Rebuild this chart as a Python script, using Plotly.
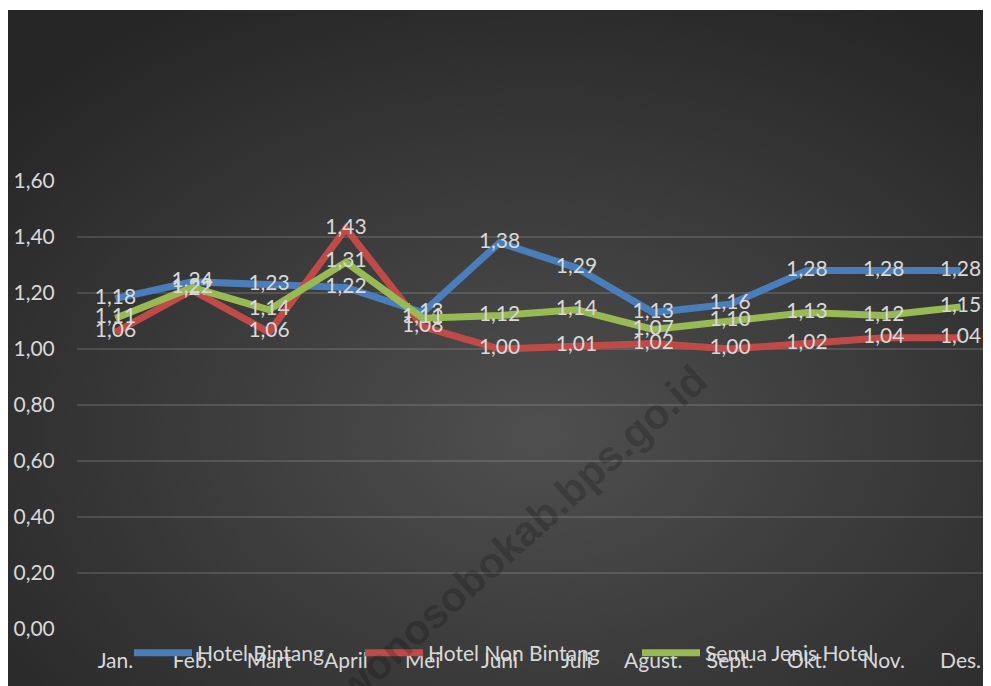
import base64
import plotly.graph_objects as go

months = ["Jan.", "Feb.", "Mart", "April", "Mei", "Juni", "Juli", "Agust.", "Sept.", "Okt.", "Nov.", "Des."]
hotel_bintang = [1.18, 1.24, 1.23, 1.22, 1.13, 1.38, 1.29, 1.13, 1.16, 1.28, 1.28, 1.28]
hotel_non_bintang = [1.06, 1.21, 1.06, 1.43, 1.08, 1.00, 1.01, 1.02, 1.00, 1.02, 1.04, 1.04]
semua_jenis = [1.11, 1.22, 1.14, 1.31, 1.11, 1.12, 1.14, 1.07, 1.10, 1.13, 1.12, 1.15]
series_names = ["Hotel Bintang", "Hotel Non Bintang", "Semua Jenis Hotel"]
y_ticks = [0.0, 0.2, 0.4, 0.6, 0.8, 1.0, 1.2, 1.4, 1.6]

colors = ["#4A7EBB", "#BE4B48", "#98B954"]
FONT = "Lato, 'Open Sans', sans-serif"
TXT = "#D9D9D9"

# figure geometry (pixels, figure coordinates)
W, H = 991, 686
L, R, T, B = 69, 0, 173, 65
pw, ph = W - L - R, H - T - B

fig = go.Figure()
legends = ["legend", "legend2", "legend3"]
for name, vals, col, lg in zip(series_names, [hotel_bintang, hotel_non_bintang, semua_jenis], colors, legends):
    fig.add_trace(go.Scatter(
        x=months, y=vals, name=name, mode="lines+text",
        line=dict(color=col, width=7),
        text=vals, texttemplate="%{y:.2f}", textposition="middle center",
        textfont=dict(family=FONT, size=21, color=TXT),
        cliponaxis=False, legend=lg,
    ))

# background gradient panel via SVG
svg = '''<svg xmlns="http://www.w3.org/2000/svg" width="981" height="684" viewBox="0 0 981 684">
<defs><radialGradient id="g" cx="54%" cy="62%" r="72%">
<stop offset="0" stop-color="#4f4f4f"/><stop offset="1" stop-color="#262626"/></radialGradient></defs>
<rect width="981" height="684" fill="url(#g)"/></svg>'''
src = "data:image/svg+xml;base64," + base64.b64encode(svg.encode()).decode()
x0 = -L / pw
x1 = (981 - L) / pw
ytop = (H - B - 2) / ph
ybot = -B / ph
fig.add_layout_image(dict(source=src, xref="paper", yref="paper", x=x0, y=ytop,
                          sizex=x1 - x0, sizey=ytop - ybot, sizing="stretch",
                          xanchor="left", yanchor="top", layer="below"))

# watermark
fig.add_annotation(text="wonosobokab.bps.go.id", xref="paper", yref="paper",
                   x=(513 - L) / pw, y=(H - B - 526) / ph, xanchor="center", yanchor="middle",
                   showarrow=False, textangle=-42,
                   font=dict(family="'Liberation Sans', Arial, sans-serif", size=42,
                             color="rgba(0,0,0,0.2)", weight=700))

leg_px = [121, 352, 629]
leg_common = dict(orientation="h", yanchor="middle", y=(H - B - 645) / ph, xanchor="left",
                  itemwidth=58, bgcolor="rgba(0,0,0,0)", font=dict(family=FONT, size=21, color=TXT))
layout_legends = {}
for lg, px in zip(legends, leg_px):
    layout_legends[lg] = dict(leg_common, x=(px - L) / pw)

fig.update_layout(
    width=W, height=H, margin=dict(l=L, r=R, t=T, b=B),
    paper_bgcolor="white", plot_bgcolor="rgba(0,0,0,0)",
    separators=", ", showlegend=True,
    font=dict(family=FONT, size=21, color=TXT),
    **layout_legends,
)
fig.update_xaxes(type="category", range=[-0.5, 11.5], showgrid=False, zeroline=False,
                 showline=False, ticks="outside", ticklen=13, tickcolor="rgba(0,0,0,0)",
                 tickfont=dict(family=FONT, size=21, color=TXT))
fig.update_yaxes(range=[0, 1.6], tickvals=y_ticks, tickformat=".2f", showgrid=True,
                 gridcolor="rgba(255,255,255,0.13)", gridwidth=1.5, zeroline=False, showline=False,
                 ticks="outside", ticklen=17, tickcolor="rgba(0,0,0,0)",
                 tickfont=dict(family=FONT, size=21, color=TXT))

fig.write_html("out.html")
